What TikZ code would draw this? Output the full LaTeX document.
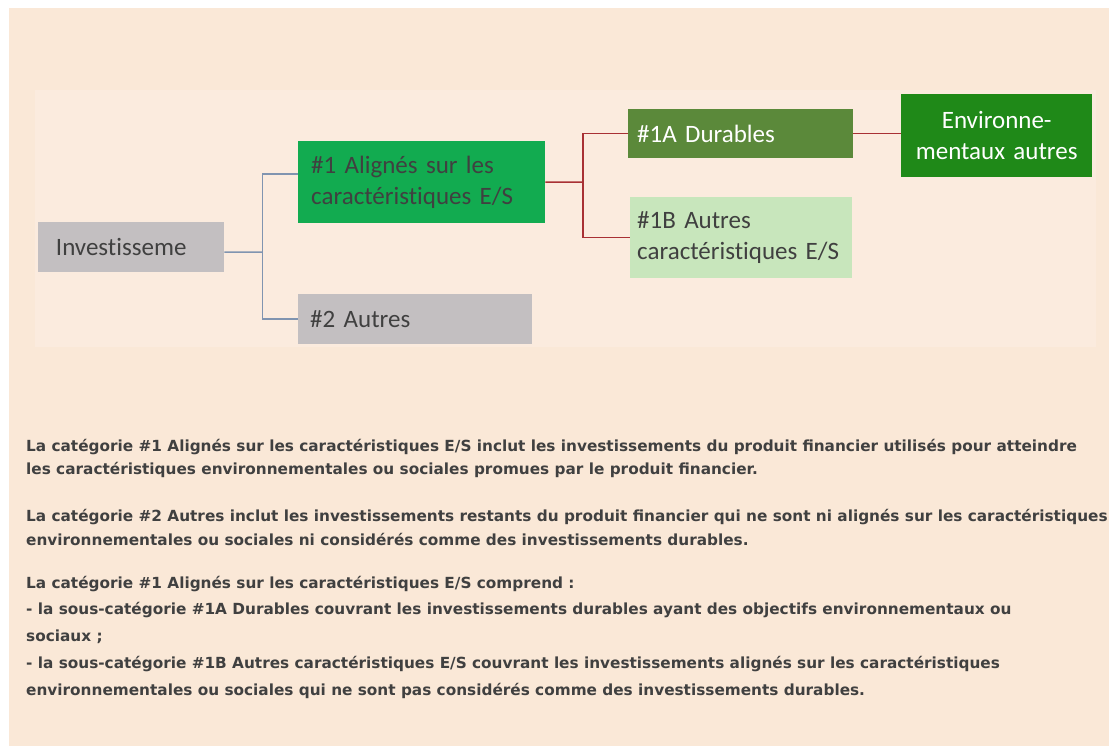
\documentclass[tikz,border=0pt]{standalone}
\usepackage{fontspec}
\setmainfont[Ligatures=NoCommon,WordSpace=0.75]{Carlito}
\newfontfamily\notefont{DejaVu Sans}
\definecolor{pagebg}{RGB}{250,232,215}
\definecolor{innerbg}{RGB}{251,235,222}
\definecolor{greybox}{RGB}{195,191,193}
\definecolor{greenA}{RGB}{18,171,80}
\definecolor{greenDur}{RGB}{91,137,58}
\definecolor{greenLight}{RGB}{200,230,188}
\definecolor{greenEnv}{RGB}{31,137,24}
\definecolor{txt}{RGB}{64,64,64}
\definecolor{blueline}{RGB}{128,148,176}
\definecolor{redline}{RGB}{168,48,52}
\tikzset{
  box/.style={anchor=north west, inner ysep=0pt, align=left,
    font=\fontsize{25}{31}\selectfont, text=txt},
  blueconn/.style={draw=blueline, line width=1.5pt},
  redconn/.style={draw=redline, line width=1.5pt},
  noteline/.style={anchor=base west, inner sep=0pt, text=txt,
    font=\notefont\bfseries\fontsize{15.3}{18}\selectfont}
}
\begin{document}
\begin{tikzpicture}[x=1pt,y=-1pt]
\useasboundingbox (0,0) rectangle (1109,746);
\fill[pagebg] (9,8) rectangle (1109,746);
\fill[innerbg] (35,90) rectangle (1096,347);

\node[box, fill=greybox, minimum width=186.5pt, minimum height=50pt, inner xsep=18pt,
  text width=150pt] (inv) at (37.5,222) {Investisseme};
\node[box, fill=greenA, minimum width=247pt, minimum height=82pt, inner xsep=13pt,
  text width=221pt] (a1) at (298,141) {\#1 Alignés sur les\\caractéristiques E/S};
\node[box, fill=greybox, minimum width=234pt, minimum height=50pt, inner xsep=12pt,
  text width=210pt] (a2) at (298,294) {\#2 Autres};
\node[box, fill=greenDur, text=white, minimum width=225pt, minimum height=49pt, inner xsep=9pt,
  text width=207pt] (b1) at (628,109) {\#1A Durables};
\node[box, fill=greenLight, minimum width=222pt, minimum height=81pt, inner xsep=7pt,
  text width=208pt] (b2) at (630,197) {\#1B Autres\\caractéristiques E/S};
\node[box, fill=greenEnv, text=white, align=center, minimum width=191pt, minimum height=83pt,
  inner xsep=0pt, text width=191pt] (env) at (901,94) {Environne-\\mentaux autres};

\coordinate (j1) at (262.5,252);
\draw[blueconn] ([yshift=-5pt]inv.east) -- (j1);
\draw[blueconn] ([yshift=8pt]a1.west) -| (j1) |- (a2.west);
\coordinate (j2) at (583,182);
\draw[redconn] (a1.east) -- (j2);
\draw[redconn] (b1.west) -| (j2) |- (b2.west);
\draw[redconn] (b1.east) -- (env.west |- b1.east);

\node[noteline] (n1) at (26,451) {La catégorie \#1 Alignés sur les caractéristiques E/S inclut les investissements du produit financier utilisés pour atteindre};
\node[noteline] (n2) at (26,474) {les caractéristiques environnementales ou sociales promues par le produit financier.};
\node[noteline] (n3) at (26,521) {La catégorie \#2 Autres inclut les investissements restants du produit financier qui ne sont ni alignés sur les caractéristiques};
\node[noteline] (n4) at (26,545) {environnementales ou sociales ni considérés comme des investissements durables.};
\node[noteline] (n5) at (26,588) {La catégorie \#1 Alignés sur les caractéristiques E/S comprend :};
\node[noteline] (n6) at (26,614) {- la sous-catégorie \#1A Durables couvrant les investissements durables ayant des objectifs environnementaux ou};
\node[noteline] (n7) at (26,641) {sociaux ;};
\node[noteline] (n8) at (26,668) {- la sous-catégorie \#1B Autres caractéristiques E/S couvrant les investissements alignés sur les caractéristiques};
\node[noteline] (n9) at (26,695) {environnementales ou sociales qui ne sont pas considérés comme des investissements durables.};
\end{tikzpicture}
\end{document}
